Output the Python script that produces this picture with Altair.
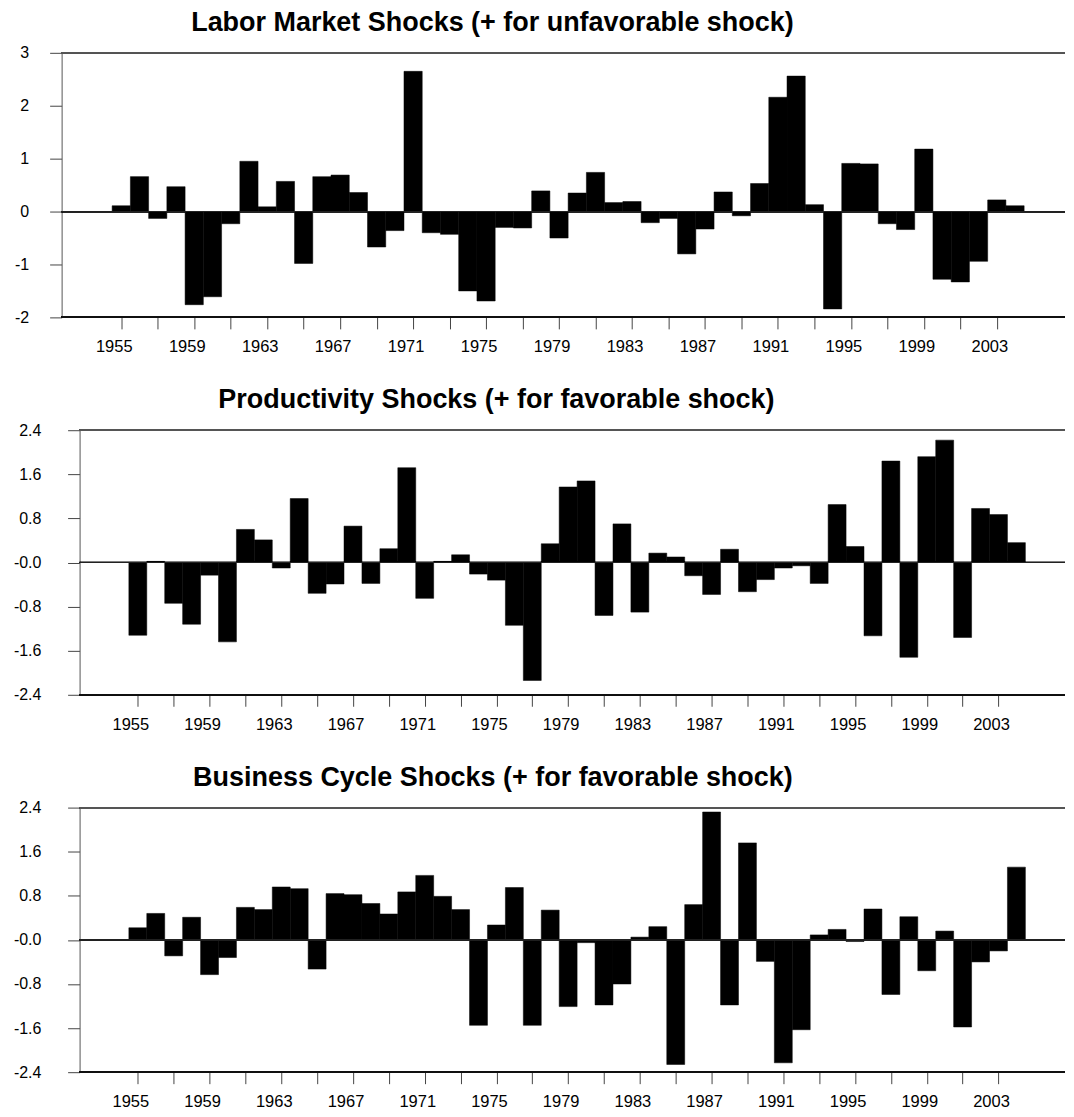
import altair as alt
import pandas as pd

years = list(range(1955, 2005))

labor = [0.11, 0.66, -0.13, 0.47, -1.76, -1.61, -0.23, 0.95, 0.09, 0.57,
         -0.98, 0.66, 0.69, 0.36, -0.67, -0.36, 2.65, -0.40, -0.43, -1.50,
         -1.69, -0.30, -0.31, 0.39, -0.50, 0.35, 0.74, 0.17, 0.19, -0.21,
         -0.13, -0.80, -0.33, 0.37, -0.08, 0.53, 2.16, 2.56, 0.13, -1.84,
         0.91, 0.90, -0.23, -0.34, 1.18, -1.28, -1.33, -0.94, 0.22, 0.11]

productivity = [-1.32, 0.02, -0.74, -1.12, -0.23, -1.44, 0.60, 0.41, -0.10, 1.16,
                -0.56, -0.39, 0.66, -0.38, 0.25, 1.72, -0.65, 0.02, 0.14, -0.21,
                -0.32, -1.14, -2.14, 0.34, 1.37, 1.48, -0.96, 0.70, -0.90, 0.17,
                0.10, -0.24, -0.58, 0.24, -0.53, -0.31, -0.10, -0.06, -0.38, 1.05,
                0.29, -1.33, 1.84, -1.72, 1.92, 2.22, -1.36, 0.98, 0.87, 0.36]

business = [0.22, 0.48, -0.29, 0.41, -0.63, -0.32, 0.59, 0.55, 0.96, 0.93,
            -0.53, 0.84, 0.82, 0.66, 0.47, 0.87, 1.17, 0.79, 0.55, -1.55,
            0.27, 0.95, -1.55, 0.54, -1.21, -0.05, -1.18, -0.80, 0.05, 0.24,
            -2.26, 0.64, 2.32, -1.18, 1.76, -0.39, -2.23, -1.63, 0.09, 0.19,
            -0.03, 0.56, -0.99, 0.42, -0.56, 0.16, -1.58, -0.40, -0.20, 1.32]

titles = ["Labor Market Shocks (+ for unfavorable shock)",
          "Productivity Shocks (+ for favorable shock)",
          "Business Cycle Shocks (+ for favorable shock)"]

ticks_labor = [3, 2, 1, 0, -1, -2]
ticks_other = [2.4, 1.6, 0.8, 0, -0.8, -1.6, -2.4]

FONT = "Liberation Sans"
WIDTH = 1005


def panel(values, title, ydom, yvals, label_expr, lab_pad, xlo, axis_year, xhi,
          axis_shift, dx):
    df = pd.DataFrame({"year": years, "value": values})
    xscale = alt.Scale(domain=[xlo, xhi], nice=False, zero=False)
    yscale = alt.Scale(domain=ydom, nice=False, zero=False)
    x_axis = alt.Axis(
        values=years,
        labelExpr="(datum.value - 1955) % 4 == 0 ? '' + datum.value : ''",
        tickSize=11.5, tickColor="#444", tickWidth=1, domain=False,
        labelPadding=10, labelOffset=-7.5,
        labelFont=FONT, labelFontSize=16.5, labelColor="black",
        labelOverlap=False, labelFlush=False, grid=False, title=None,
    )
    y_axis = alt.Axis(
        values=yvals, labelExpr=label_expr, offset=-axis_shift,
        tickSize=12, tickColor="#444", tickWidth=1,
        domainColor="#555", domainWidth=1,
        labelPadding=lab_pad, labelFont=FONT, labelFontSize=16,
        labelColor="black", labelAlign="right", labelBaseline="middle",
        labelOverlap=False, labelFlush=False, grid=False, title=None,
    )
    bars = (
        alt.Chart(df)
        .transform_calculate(x0="datum.year - 0.5", x1="datum.year + 0.5")
        .mark_bar(color="black", stroke="black", strokeWidth=0.5)
        .encode(
            x=alt.X("x0:Q", scale=xscale, axis=x_axis),
            x2="x1:Q",
            y=alt.Y("value:Q", scale=yscale, axis=y_axis),
            y2=alt.datum(0),
        )
    )

    def hline(level, color):
        return alt.Chart(df).mark_rule(color=color, strokeWidth=1).encode(
            x=alt.datum(axis_year), x2=alt.datum(xhi), y=alt.datum(level)
        )

    return alt.layer(
        bars,
        hline(0, "#222"),
        hline(ydom[1], "#555"),
        hline(ydom[0], "#111"),
    ).properties(
        width=WIDTH, height=265,
        title=alt.TitleParams(title, font=FONT, fontSize=27, fontWeight="bold",
                              color="black", anchor="middle", frame="group",
                              dx=dx, offset=7.8),
    )


# panel 1: axis at plot edge; panels 2-3: axis 18 px inside the plot group
p1 = panel(labor, titles[0], [-2, 3], ticks_labor, "'' + datum.value", 21,
           1951.73, 1951.73, 2006.74, 0, -71)
p2 = panel(productivity, titles[1], [-2.4, 2.4], ticks_other,
           "datum.value == 0 ? '-0.0' : '' + datum.value", 26.7,
           1950.75, 1951.75, 2006.71, 18, -67)
p3 = panel(business, titles[2], [-2.4, 2.4], ticks_other,
           "datum.value == 0 ? '-0.0' : '' + datum.value", 26.7,
           1950.75, 1951.75, 2006.71, 18, -70.5)

chart = (
    alt.concat(p1, p2, p3, columns=1, spacing=31)
    .configure_view(stroke=None)
    .properties(padding={"left": 4.7, "top": 0, "right": 0, "bottom": 0})
)

chart.save("out.html", embed_options={"renderer": "svg", "actions": False})
